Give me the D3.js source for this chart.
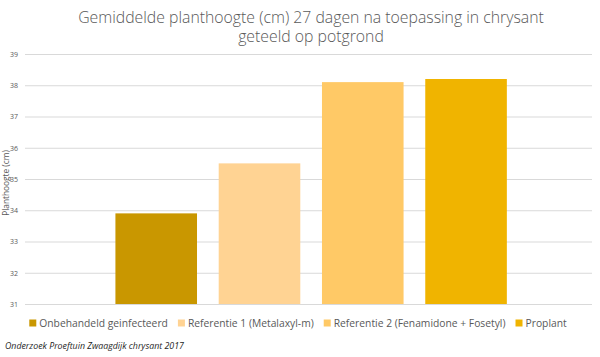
<!DOCTYPE html>
<html><head><meta charset="utf-8">
<script src="https://cdn.jsdelivr.net/npm/d3@7"></script>
<style>body{margin:0;background:#fff}svg{display:block}</style>
</head><body>
<svg id="c" width="600" height="357"></svg>
<script>
const titleLines = ["Gemiddelde planthoogte (cm) 27 dagen na toepassing in chrysant", "geteeld op potgrond"];
const series = ["Onbehandeld geinfecteerd", "Referentie 1 (Metalaxyl-m)", "Referentie 2 (Fenamidone + Fosetyl)", "Proplant"];
const values = [33.9, 35.5, 38.1, 38.2];
const colors = ["#C99700", "#FFD393", "#FFC966", "#F0B400"];
const yTicks = [31, 32, 33, 34, 35, 36, 37, 38, 39];
const yLabel = "Planthoogte (cm)";
const footer = "Onderzoek Proeftuin Zwaagdijk chrysant 2017";

const svg = d3.select("#c");
const font = "'Open Sans', sans-serif";
const m = {l: 25, r: 8, t: 54, b: 53};
const W = 600, H = 357;
const y = d3.scaleLinear().domain([31, 39]).range([H - m.b, m.t]);
const x = d3.scaleBand().domain(series).range([m.l, W - m.r]).paddingInner(0.21).paddingOuter(0.85).align(0.515);

// title (one text per line)
svg.append("g").selectAll("text").data(titleLines).join("text")
  .attr("x", 311).attr("y", (d, i) => 22.5 + i * 19).attr("text-anchor", "middle")
  .attr("font-family", font).attr("font-size", 15.8).attr("font-weight", 300).attr("fill", "#595959")
  .text(d => d);

// grid
const yAxis = d3.axisLeft(y).tickValues(yTicks).tickSize(-(W - m.l - m.r)).tickPadding(7).tickFormat(d3.format("d"));
const g = svg.append("g").attr("transform", `translate(${m.l},0)`).call(yAxis);
g.select(".domain").remove();
g.selectAll(".tick line").attr("stroke", "#d9d9d9").attr("stroke-width", 1);
g.selectAll(".tick text").attr("font-family", font).attr("font-size", 7).attr("fill", "#595959");

// bars
svg.append("g").selectAll("rect").data(series).join("rect")
  .attr("x", d => x(d)).attr("width", x.bandwidth())
  .attr("y", (d, i) => y(values[i])).attr("height", (d, i) => y(31) - y(values[i]))
  .attr("fill", (d, i) => colors[i]);

// y label
svg.append("text").attr("transform", `translate(9,183) rotate(-90)`)
  .attr("text-anchor", "middle").attr("font-family", font).attr("font-size", 8.3)
  .attr("fill", "#595959").text(yLabel);

// legend
const leg = svg.append("g");
let cx = 0;
series.forEach((s, i) => {
  const it = leg.append("g");
  it.append("rect").attr("x", 0).attr("y", -3.5).attr("width", 7).attr("height", 7).attr("fill", colors[i]);
  const t = it.append("text").attr("x", 10).attr("y", 3.8).attr("font-family", font).attr("font-size", 10.3)
    .attr("fill", "#595959").text(s);
  const w = 10 + t.node().getComputedTextLength();
  it.attr("transform", `translate(${cx},0)`);
  cx += w + 10;
});
const total = cx - 10;
leg.attr("transform", `translate(${298 - total / 2},323)`);

// footer
svg.append("text").attr("x", 5).attr("y", 349).attr("font-family", font).attr("font-size", 8.8)
  .attr("font-style", "italic").attr("fill", "#262626").text(footer);
</script>
</body></html>
